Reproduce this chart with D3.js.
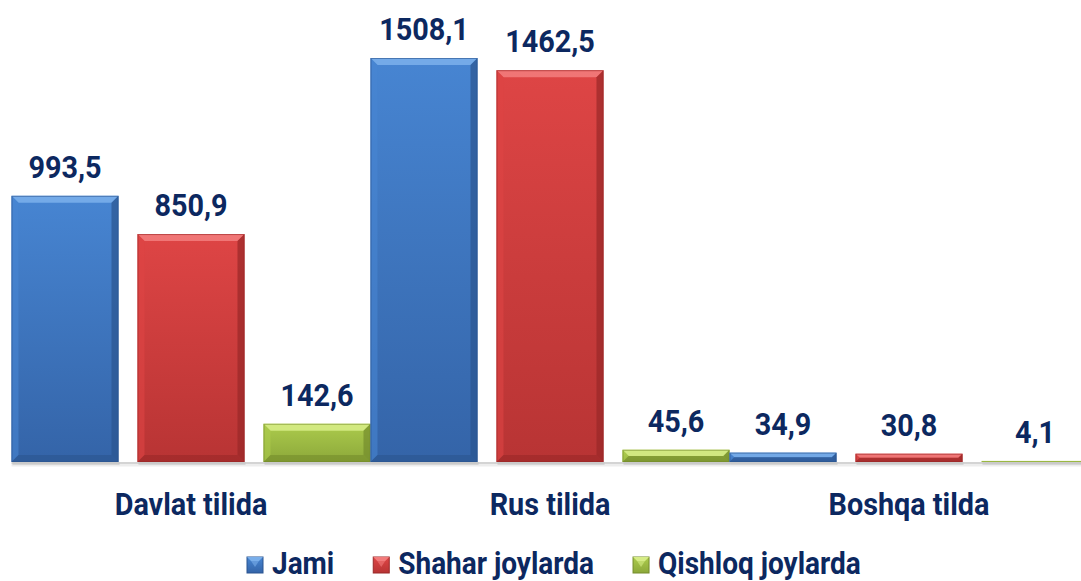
<!DOCTYPE html>
<html>
<head>
<meta charset="utf-8">
<script src="https://cdn.jsdelivr.net/npm/d3@7"></script>
<style>
  body { margin: 0; background: #fff; }
  svg text { font-family: Roboto, "DejaVu Sans", sans-serif; font-weight: 700; fill: #0C2860; }
</style>
</head>
<body>
<div id="chart"></div>
<script>
var svgWidth = 1081;
var svgHeight = 581;

// data
var categories = ["Davlat tilida", "Rus tilida", "Boshqa tilda"];
var seriesNames = ["Jami", "Shahar joylarda", "Qishloq joylarda"];
var jami = [993.5, 1508.1, 34.9];
var shahar = [850.9, 1462.5, 30.8];
var qishloq = [142.6, 45.6, 4.1];
var seriesValues = [jami, shahar, qishloq];

// colours per series: main top, main bottom, bevel top, side dark
var palette = [
  { top: "#4785D2", bottom: "#3464A8", light: "#79AEEA", dark: "#2B5590" },
  { top: "#DE4545", bottom: "#B83434", light: "#F27B7B", dark: "#992828" },
  { top: "#ACCB4C", bottom: "#8CA83A", light: "#D6EC86", dark: "#748C2C" }
];

var fontSize = 32;
var squeeze = 0.9; // narrow the bold font horizontally

var svg = d3.select("#chart")
  .append("svg")
  .attr("width", svgWidth)
  .attr("height", svgHeight);

var defs = svg.append("defs");
palette.forEach(function(p, i) {
  var g = defs.append("linearGradient")
    .attr("id", "grad" + i)
    .attr("x1", 0).attr("y1", 0).attr("x2", 0).attr("y2", 1);
  g.append("stop").attr("offset", "0%").attr("stop-color", p.top);
  g.append("stop").attr("offset", "100%").attr("stop-color", p.bottom);
});

// scales
var x0 = d3.scaleBand()
  .domain(categories)
  .range([11.5, 11.5 + 3 * 359])
  .paddingInner(0)
  .paddingOuter(0);

var x1 = d3.scaleBand()
  .domain(d3.range(seriesNames.length))
  .range([0, x0.bandwidth()])
  .paddingInner(0.151)
  .paddingOuter(0);

var y = d3.scaleLinear()
  .domain([0, 1508.1])
  .range([462, 58]);

// baseline with soft shadow
svg.append("line")
  .attr("x1", x0.range()[0]).attr("x2", svgWidth)
  .attr("y1", y(0) + 3).attr("y2", y(0) + 3)
  .attr("stroke", "#EDEDED").attr("stroke-width", 3);
svg.append("line")
  .attr("x1", x0.range()[0]).attr("x2", svgWidth)
  .attr("y1", y(0) + 1).attr("y2", y(0) + 1)
  .attr("stroke", "#D4D4D4").attr("stroke-width", 2);

// build bar records
var bars = [];
categories.forEach(function(c, ci) {
  seriesValues.forEach(function(vals, si) {
    bars.push({ cat: c, s: si, value: vals[ci] });
  });
});

function pts(arr) {
  return arr.map(function(p) { return p.join(","); }).join(" ");
}

var barGroup = svg.append("g");

bars.forEach(function(d) {
  var bx = x0(d.cat) + x1(d.s);
  var bw = x1.bandwidth();
  var by = y(d.value);
  var bh = y(0) - by;
  var p = palette[d.s];
  var b = Math.min(7, bh / 2);
  var g = barGroup.append("g");

  // shadow under bar
  g.append("rect")
    .attr("x", bx + 1).attr("y", y(0))
    .attr("width", bw).attr("height", 3)
    .attr("fill", "#BFBFBF").attr("opacity", 0.5);

  g.append("rect")
    .attr("x", bx).attr("y", by)
    .attr("width", bw).attr("height", bh)
    .attr("fill", "url(#grad" + d.s + ")");

  if (bh < 1.5) return;

  // bevel: top, left, right, bottom
  g.append("polygon")
    .attr("points", pts([[bx, by], [bx + bw, by], [bx + bw - b, by + b], [bx + b, by + b]]))
    .attr("fill", p.light).attr("opacity", 0.9);
  g.append("polygon")
    .attr("points", pts([[bx, by], [bx + b, by + b], [bx + b, by + bh - b], [bx, by + bh]]))
    .attr("fill", p.top).attr("opacity", 0.6);
  g.append("polygon")
    .attr("points", pts([[bx + bw, by], [bx + bw - b, by + b], [bx + bw - b, by + bh - b], [bx + bw, by + bh]]))
    .attr("fill", p.dark).attr("opacity", 0.7);
  g.append("polygon")
    .attr("points", pts([[bx, by + bh], [bx + b, by + bh - b], [bx + bw - b, by + bh - b], [bx + bw, by + bh]]))
    .attr("fill", p.dark).attr("opacity", 0.6);
  g.append("rect")
    .attr("x", bx + 0.5).attr("y", by + 0.5)
    .attr("width", bw - 1).attr("height", Math.max(0, bh - 1))
    .attr("fill", "none").attr("stroke", p.dark).attr("stroke-width", 1).attr("opacity", 0.6);
});

// value labels
var fmt = function(v) { return d3.format(".1f")(v).replace(".", ","); };

svg.append("g").selectAll("text")
  .data(bars)
  .enter()
  .append("text")
  .attr("text-anchor", "middle")
  .attr("font-size", fontSize)
  .attr("transform", function(d) {
    return "translate(" + (x0(d.cat) + x1(d.s) + x1.bandwidth() / 2) + "," + (y(d.value) - 18) + ") scale(" + squeeze + ",1)";
  })
  .text(function(d) { return fmt(d.value); });

// category labels
svg.append("g").selectAll("text")
  .data(categories)
  .enter()
  .append("text")
  .attr("text-anchor", "middle")
  .attr("font-size", fontSize)
  .attr("transform", function(d) {
    return "translate(" + (x0(d) + x0.bandwidth() / 2) + ",515) scale(" + squeeze + ",1)";
  })
  .text(function(d) { return d; });

// legend
var legend = svg.append("g");
var legendSqueeze = 0.875;
var lx = 247;
seriesNames.forEach(function(name, i) {
  var p = palette[i];
  var item = legend.append("g");
  item.append("rect")
    .attr("x", lx).attr("y", 557)
    .attr("width", 16).attr("height", 16)
    .attr("fill", "url(#grad" + i + ")")
    .attr("stroke", p.dark).attr("stroke-width", 1);
  item.append("polygon")
    .attr("points", pts([[lx, 557], [lx + 16, 557], [lx + 12, 561], [lx + 4, 561]]))
    .attr("fill", p.light);
  item.append("polygon")
    .attr("points", pts([[lx + 4, 561], [lx + 12, 561], [lx + 8, 567]]))
    .attr("fill", p.light).attr("opacity", 0.6);
  var t = item.append("text")
    .attr("font-size", fontSize)
    .attr("transform", "translate(" + (lx + 25) + ",574) scale(" + legendSqueeze + ",1)")
    .text(name);
  lx += 25 + t.node().getComputedTextLength() * legendSqueeze + 39;
});
</script>
</body>
</html>
